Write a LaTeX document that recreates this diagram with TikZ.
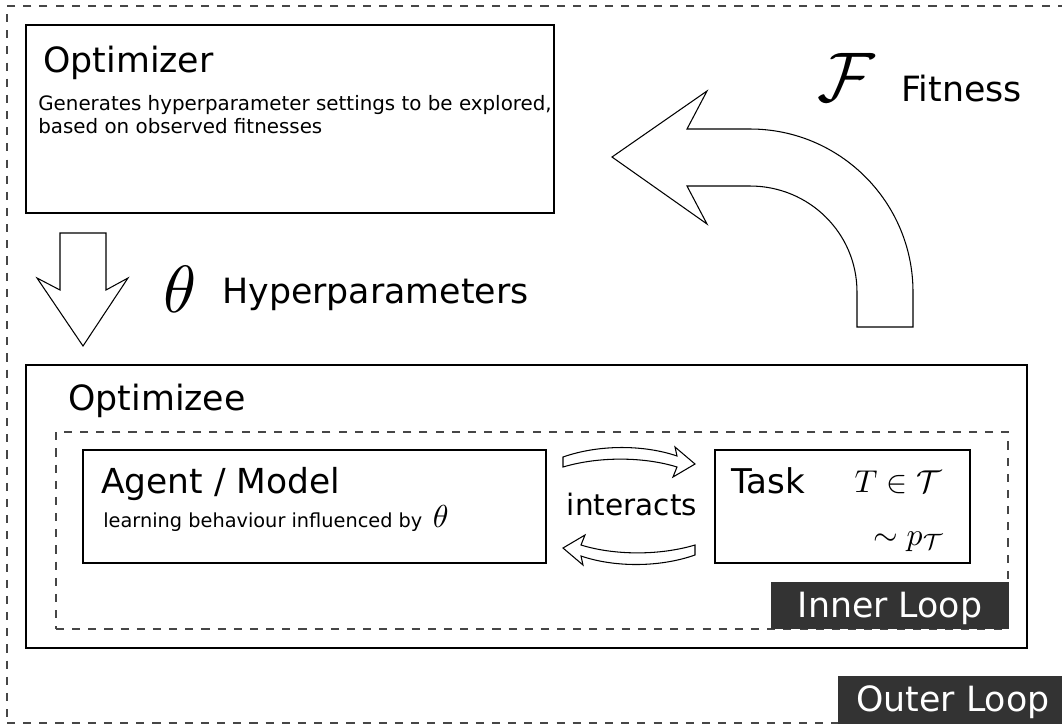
\documentclass[tikz,border=0pt]{standalone}
\usepackage{amsmath,amssymb}
\usepackage{fontspec}
\setmainfont{DejaVu Sans}
\usepackage{tikz}
\usetikzlibrary{fit}
\definecolor{loopgray}{RGB}{51,51,51}
\definecolor{dashgray}{RGB}{70,70,70}

\tikzset{
  box/.style={draw, line width=0.8pt, inner sep=0pt, fit={#1}},
  loopframe/.style={draw=dashgray, line width=0.6pt, dash pattern=on 4.6pt off 4.6pt, inner sep=0pt, fit={#1}},
  looplabel/.style={fill=loopgray, inner sep=0pt, fit={#1}},
  fatarrow/.style={draw, line width=0.6pt, fill=white, line join=miter},
  title/.style={anchor=base west, font=\fontsize{19.8}{23}\selectfont},
  loopname/.style={anchor=base, text=white, font=\fontsize{19.8}{23}\selectfont},
  bigmath/.style={anchor=base west, font=\fontsize{10}{12}\selectfont, scale=#1},
}

\begin{document}
\begin{tikzpicture}[x=0.02cm, y=-0.02cm, every node/.style={inner sep=0pt}]
\useasboundingbox (0,0) rectangle (1062,725);

% outer loop frame and its tag (right side runs off the page)
\node[loopframe={(7,6) (1075,723)}] (outer) {};
\node[looplabel={(838,676) (1062,724)}] (outertag) {};
\node[loopname] (outertxt) at (953,711) {Outer Loop};

% optimizer
\node[box={(26,25) (554,213)}] (optimizer) {};
\node[title] (optname) at (43,72) {Optimizer};
\node[anchor=base west, align=left, font=\fontsize{11.3}{13}\selectfont] (optdesc) at (38,133)
  {Generates hyperparameter settings to be explored,\\based on observed fitnesses};

% theta going down
\draw[fatarrow] (60,233) -- (106,233) -- (106,290) -- (128,278) -- (83,346)
  -- (37,278) -- (60,290) -- cycle;
\node[bigmath=3.8] (theta) at (162,312) {$\theta$};
\node[title] (hyper) at (222,303) {Hyperparameters};

% fitness coming back up
\draw[fatarrow] (612,157) -- (707,91) -- (687,129) -- (750,129)
  .. controls (840,129) and (913,202) .. (913,292) -- (913,327) -- (857,327) -- (857,292)
  .. controls (857,233) and (809,186) .. (750,186) -- (687,186) -- (707,224) -- cycle;
\node[bigmath=4] (fit) at (816,101) {$\mathcal{F}$};
\node[title] (fitness) at (901,101) {Fitness};

% optimizee with the inner loop
\node[box={(26,365) (1027,648)}] (optimizee) {};
\node[title] (opteename) at (68,410) {Optimizee};
\node[loopframe={(56,432) (1008,629)}] (inner) {};
\node[looplabel={(771,582) (1009,629)}] (innertag) {};
\node[loopname] (innertxt) at (890,617) {Inner Loop};

% agent
\node[box={(83,450) (546,563)}] (agent) {};
\node[anchor=base west, font=\fontsize{19.6}{23}\selectfont] (agentname) at (101,493) {Agent / Model};
\node[anchor=base west, font=\fontsize{11}{13}\selectfont] (agentdesc) at (103,527)
  {learning behaviour influenced by\hspace{0.55em}\scalebox{1.65}{$\theta$}};

% task
\node[box={(715,450) (970,563)}] (task) {};
\node[anchor=base west, font=\fontsize{19.4}{23}\selectfont] (taskname) at (731,493) {Task};
\node[bigmath=1.8, anchor=base east] (taskset) at (942,492) {$T \in \mathcal{T}$};
\node[bigmath=1.8, anchor=base east] (taskdist) at (945,545) {$\sim p_{\mathcal{T}}$};

% interaction arrows
\node[anchor=base, font=\fontsize{16.8}{20}\selectfont] (interacts) at (632,515) {interacts};
\foreach \ang in {0,180}
  \draw[fatarrow, rotate around={\ang:(629,506)}] (563,457)
    .. controls (600,444) and (645,445) .. (677,456) -- (675,447) -- (695,464)
    -- (673,477) -- (677,467) .. controls (645,457) and (600,456) .. (563,467) -- cycle;
\end{tikzpicture}
\end{document}
